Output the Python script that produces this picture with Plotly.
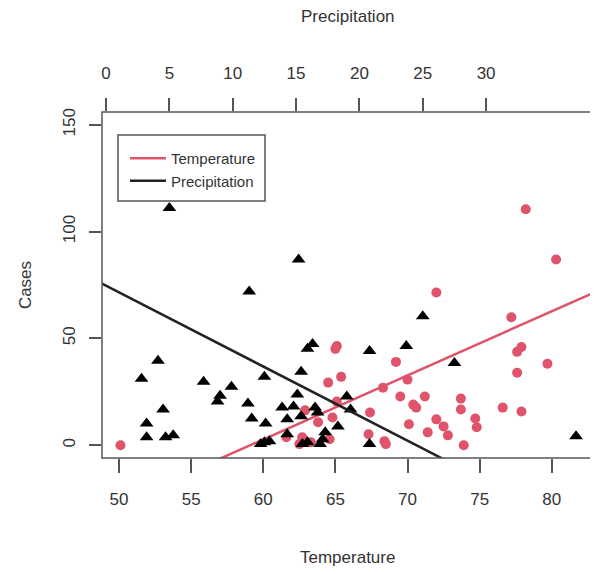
import numpy as np
import plotly.graph_objects as go

# Red circles: Temperature (bottom axis) vs Cases
temperature = [50.1, 78.2, 80.3, 72.0, 77.2, 65.1, 65.0, 77.9, 77.6, 69.2,
               79.7, 65.4, 64.5, 70.0, 77.6, 68.3, 69.5, 71.2, 73.7, 73.7,
               70.4, 70.6, 76.6, 77.9, 65.1, 62.9, 64.8, 67.4, 72.0, 72.5,
               72.8, 74.7, 74.8, 70.1, 71.4, 67.3, 68.4, 68.5, 73.9, 61.6,
               63.8, 62.7, 62.5, 63.3, 64.6]
cases_temp = [0.0, 110.5, 86.9, 71.5, 59.9, 46.4, 45.1, 46.0, 43.7, 39.0,
              38.1, 32.0, 29.3, 30.7, 33.9, 26.9, 22.8, 22.8, 21.8, 16.7,
              19.0, 17.6, 17.6, 15.8, 20.4, 16.3, 13.0, 15.3, 12.1, 8.8,
              4.6, 12.5, 8.4, 9.8, 6.0, 5.1, 1.9, 0.5, 0.0, 3.7,
              10.7, 3.7, 0.5, 1.4, 2.8]

# Black triangles: Precipitation (top axis) vs Cases
precipitation = [5.0, 11.3, 4.1, 2.8, 4.5, 3.2, 3.2, 4.7, 5.3, 7.7,
                 9.0, 8.8, 9.9, 11.2, 11.5, 12.5, 12.6, 12.2, 12.5, 12.9,
                 13.9, 14.3, 15.2, 25.0, 16.3, 15.9, 20.8, 23.7, 15.4, 27.5,
                 15.1, 19.0, 19.3, 14.8, 15.4, 16.5, 16.7, 18.3, 14.3, 17.3,
                 17.1, 15.9, 15.5, 16.9, 20.8, 37.1]
cases_precip = [111.0, 72.0, 39.5, 31.1, 16.7, 10.2, 3.7, 3.7, 4.6, 29.7,
                23.2, 20.4, 27.4, 19.5, 12.5, 32.0, 10.2, 0.5, 1.4, 1.9,
                17.6, 12.1, 86.9, 60.4, 47.4, 45.1, 44.1, 46.4, 34.4, 38.5,
                23.7, 22.8, 16.7, 18.1, 13.5, 17.6, 15.3, 8.8, 5.1, 6.0,
                2.8, 1.4, 0.5, 0.5, 0.5, 4.2]

# Fitted lines (intercept, slope)
temp_fit = [-177.3, 3.0]
precip_fit = [74.7, -3.05]

temp_ticks = [50, 55, 60, 65, 70, 75, 80]
precip_ticks = [0, 5, 10, 15, 20, 25, 30]
case_ticks = [0, 50, 100, 150]

temp_range = [48.82, 82.86]
precip_range = [-0.32, 38.44]
case_range = [-6, 156]

RED = "#DF536B"
TXT = "#333333"
LINE = "#555555"
FONT = "Liberation Sans"

tx = np.array(temp_range)
px = np.array(precip_range)

fig = go.Figure()
fig.add_trace(go.Scatter(x=temperature, y=cases_temp, mode="markers",
                         marker=dict(symbol="circle", size=10, color=RED),
                         showlegend=False, xaxis="x", yaxis="y"))
fig.add_trace(go.Scatter(x=precipitation, y=cases_precip, mode="markers",
                         marker=dict(symbol="triangle-up", size=12, color="black"),
                         showlegend=False, xaxis="x2", yaxis="y"))
fig.add_trace(go.Scatter(x=tx, y=temp_fit[0] + temp_fit[1] * tx, mode="lines",
                         line=dict(color=RED, width=2.5), name="Temperature",
                         xaxis="x", yaxis="y"))
fig.add_trace(go.Scatter(x=px, y=precip_fit[0] + precip_fit[1] * px, mode="lines",
                         line=dict(color="#222222", width=2.5), name="Precipitation",
                         xaxis="x2", yaxis="y"))

axis_common = dict(showgrid=False, zeroline=False, showline=False,
                   ticks="outside", tickcolor=LINE, tickwidth=1.5,
                   automargin=False,
                   tickfont=dict(family=FONT, size=17, color=TXT))

fig.update_layout(
    width=590, height=566,
    margin=dict(l=94, r=5, t=104, b=116),
    plot_bgcolor="white", paper_bgcolor="white",
    xaxis=dict(range=temp_range, tickvals=temp_ticks, ticklen=14,
               ticklabelstandoff=12, **axis_common),
    xaxis2=dict(range=precip_range, tickvals=precip_ticks, ticklen=13, side="top",
                overlaying="x", anchor="y", ticklabelstandoff=12, **axis_common),
    yaxis=dict(range=case_range, tickvals=case_ticks, ticklen=12,
               tickangle=-90, ticklabelstandoff=7, **axis_common),
    legend=dict(x=0.0468, y=0.9133, xanchor="left", yanchor="top",
                borderwidth=0, bgcolor="rgba(0,0,0,0)", itemwidth=36,
                font=dict(family=FONT, size=15, color=TXT)),
    shapes=[
        dict(type="rect", xref="paper", yref="paper", x0=0, x1=1, y0=0, y1=1,
             line=dict(color=LINE, width=1.5), layer="above"),
        dict(type="rect", xref="paper", yref="paper",
             x0=0.0326, x1=0.332, y0=0.743, y1=0.9335,
             line=dict(color=LINE, width=1.5), fillcolor="white",
             layer="above"),
    ],
    annotations=[
        dict(text="Temperature", xref="paper", yref="paper", x=0.5, y=-0.32,
             showarrow=False, font=dict(family=FONT, size=17, color=TXT)),
        dict(text="Precipitation", xref="paper", yref="paper", x=0.5, y=1.31,
             showarrow=False, font=dict(family=FONT, size=17, color=TXT)),
        dict(text="Cases", xref="paper", yref="paper", x=-0.18, y=0.5, textangle=-90,
             showarrow=False, font=dict(family=FONT, size=17, color=TXT)),
    ],
)

fig.write_html("out.html")
